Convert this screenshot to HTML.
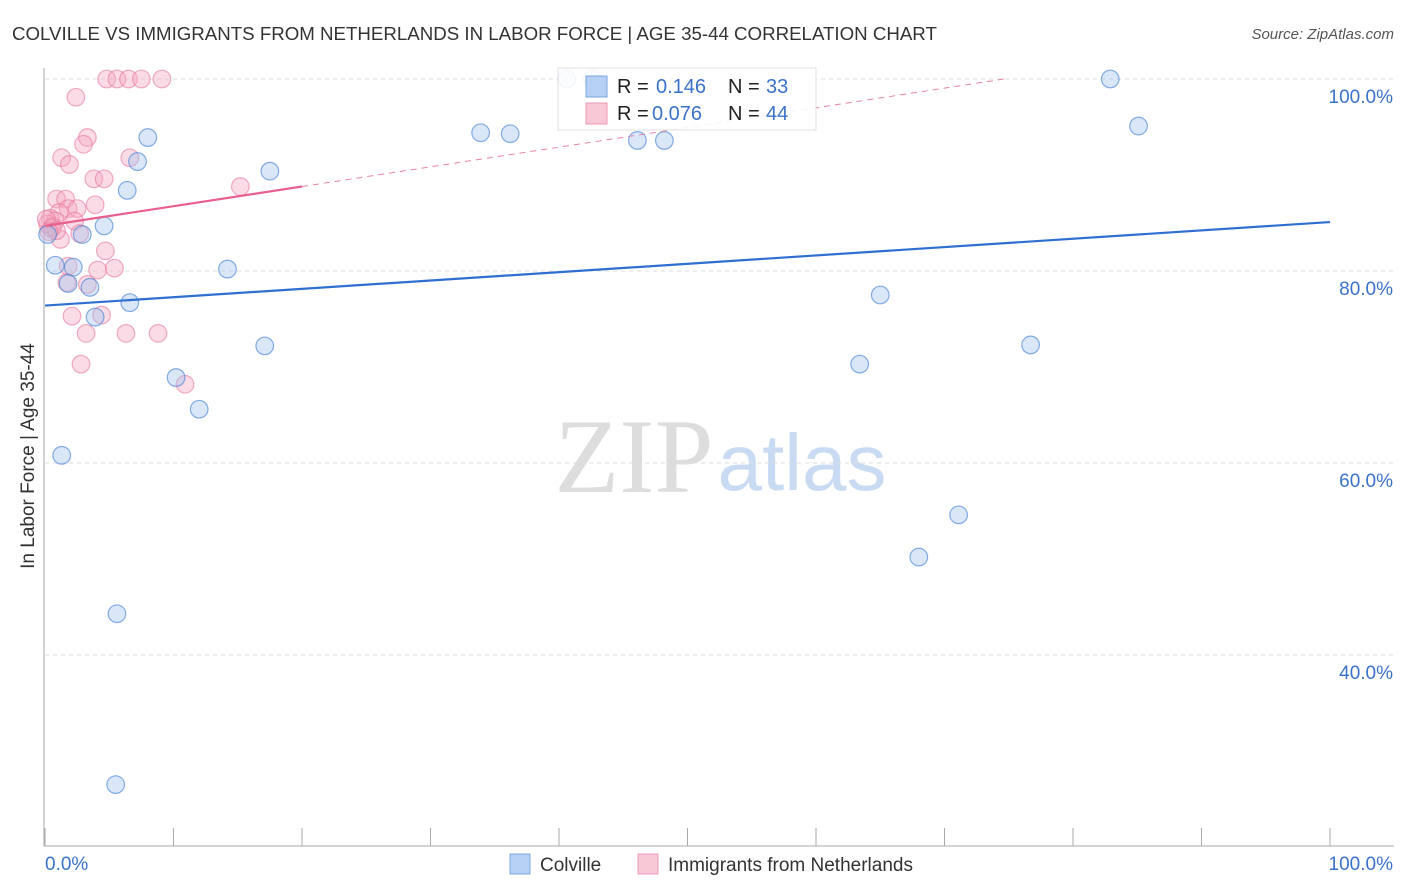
<!DOCTYPE html>
<html><head><meta charset="utf-8"><style>
body{margin:0;background:#fff;font-family:"Liberation Sans",sans-serif}
svg{display:block}
</style></head><body>
<svg id="chart" width="1406" height="892" xmlns="http://www.w3.org/2000/svg">
<text x="12" y="40" font-size="18.7" fill="#333">COLVILLE VS IMMIGRANTS FROM NETHERLANDS IN LABOR FORCE | AGE 35-44 CORRELATION CHART</text>
<text x="1394" y="39" font-size="15" fill="#555" font-style="italic" text-anchor="end">Source: ZipAtlas.com</text>
<g>
<text x="634" y="492" font-size="106" fill="#ddd" font-family="Liberation Serif,serif" text-anchor="middle">ZIP</text>
<text x="802" y="490" font-size="80" fill="#c9dbf2" text-anchor="middle">atlas</text>
</g>
<g id="grid"></g>
<g id="axes"></g>
<g id="marks"></g>
<text transform="translate(34,456) rotate(-90)" font-size="19" fill="#333" text-anchor="middle">In Labor Force | Age 35-44</text>
<g>
<rect x="558" y="68" width="258" height="62" fill="#fff" stroke="#ddd" opacity="0.9"/>
<rect x="586" y="76" width="21" height="21" fill="#b5d0f2" stroke="#7aa6e0"/>
<rect x="586" y="103" width="21" height="21" fill="#f9c8d6" stroke="#ec9ab3"/>
<text x="617" y="93" font-size="20" fill="#222">R = </text><text x="656" y="93" font-size="20" fill="#3a72c9">0.146</text>
<text x="728" y="93" font-size="20" fill="#222">N = </text><text x="766" y="93" font-size="20" fill="#3a72c9">33</text>
<text x="617" y="120" font-size="20" fill="#222">R = </text><text x="652" y="120" font-size="20" fill="#3a72c9">0.076</text>
<text x="728" y="120" font-size="20" fill="#222">N = </text><text x="766" y="120" font-size="20" fill="#3a72c9">44</text>
</g>
<g>
<rect x="510" y="854" width="20" height="20" fill="#b5d0f2" stroke="#7aa6e0"/>
<text x="540" y="871" font-size="19" fill="#333">Colville</text>
<rect x="638" y="854" width="20" height="20" fill="#f9c8d6" stroke="#ec9ab3"/>
<text x="668" y="871" font-size="19" fill="#333">Immigrants from Netherlands</text>
</g>
</svg>
<script>
const yTicks=[100,80,60,40];
const yTickLabels=["100.0%","80.0%","60.0%","40.0%"];
const xTicks=[0,10,20,30,40,50,60,70,80,90,100];
const blueX=[0.2,0.8,1.3,1.8,2.2,3.5,3.9,4.6,2.9,5.6,5.5,6.4,6.6,7.2,8.0,10.2,12.0,14.2,17.1,17.5,33.9,36.2,40.6,42.6,46.1,48.2,63.4,65.0,68.0,71.1,76.7,82.9,85.1];
const blueY=[83.8,80.6,60.8,78.7,80.4,78.3,75.2,84.7,83.8,44.3,26.5,88.4,76.7,91.4,93.9,68.9,65.6,80.2,72.2,90.4,94.4,94.3,100,100,93.6,93.6,70.3,77.5,50.2,54.6,72.3,100,95.1];
const pinkX=[4.8,5.6,6.5,7.5,9.1,2.4,3.3,3.0,1.3,1.9,6.6,3.8,4.6,15.2,0.9,1.6,3.9,1.8,2.5,1.1,0.4,0.8,0.2,0.5,2.3,1.2,2.7,4.7,1.8,4.1,5.4,1.7,3.3,2.1,4.4,3.2,6.3,8.8,2.8,10.9,0.1,0.6,0.9,0.3];
const pinkY=[100,100,100,100,100,98.1,93.9,93.2,91.8,91.1,91.8,89.6,89.6,88.8,87.5,87.5,86.9,86.5,86.5,86.1,85.5,85.2,84.9,84.4,85.2,83.3,83.9,82.1,80.5,80.1,80.3,78.8,78.6,75.3,75.4,73.5,73.5,73.5,70.3,68.2,85.4,84.6,84.2,84.1];
const blueLine=[76.4,85.1];
const pinkLine=[84.7,88.8];
const NS="http://www.w3.org/2000/svg";
const X=v=>45+v*12.85, Y=v=>79+(100-v)*9.6;
function mk(t,a,p){const e=document.createElementNS(NS,t);for(const k in a)e.setAttribute(k,a[k]);p.appendChild(e);return e;}
const grid=document.getElementById('grid'),axes=document.getElementById('axes'),marks=document.getElementById('marks');
yTicks.forEach((t,i)=>{
 const l=mk('line',{x1:45,x2:1394,y1:Y(t),y2:Y(t),stroke:'#ddd','stroke-dasharray':'4,4'},grid);
 
 
 const tx=mk('text',{x:1393,y:Y(t)+24,'font-size':19,fill:'#3a72c9','text-anchor':'end'},axes);
 tx.textContent=yTickLabels[i];
 
 
});
const ax=mk('line',{x1:44,x2:44,y1:68,y2:846,stroke:'#aaa'},axes);


const bx=mk('line',{x1:44,x2:1394,y1:846,y2:846,stroke:'#aaa'},axes);


xTicks.forEach(t=>{
 const l=mk('line',{x1:X(t),x2:X(t),y1:828,y2:846,stroke:'#aaa'},axes);
 
 
});
[[0,"0.0%","start",45],[100,"100.0%","end",1393]].forEach(d=>{
 const tx=mk('text',{x:d[3],y:870,'font-size':19,fill:'#3a72c9','text-anchor':d[2]},axes);
 tx.textContent=d[1];
 
 
});
pinkX.forEach((x,i)=>{
 const c=mk('circle',{cx:X(x),cy:Y(pinkY[i]),r:8.8,fill:'rgba(246,168,192,0.4)',stroke:'rgba(232,120,155,0.6)','stroke-width':1.2},marks);
 
 
});
blueX.forEach((x,i)=>{
 const c=mk('circle',{cx:X(x),cy:Y(blueY[i]),r:8.8,fill:'rgba(160,195,240,0.4)',stroke:'rgba(70,130,215,0.65)','stroke-width':1.2},marks);
 
 
});
const bl=mk('line',{x1:X(0),y1:Y(blueLine[0]),x2:X(100),y2:Y(blueLine[1]),stroke:'#2f6fd0','stroke-width':2.2},marks);


const slope=(pinkLine[1]-pinkLine[0])/20;
const xEnd=(100-pinkLine[0])/slope;
const pd=mk('line',{x1:X(20),y1:Y(pinkLine[1]),x2:X(xEnd),y2:Y(100),stroke:'#e8849f','stroke-width':1,'stroke-dasharray':'6,5'},marks);


const pl=mk('line',{x1:X(0),y1:Y(pinkLine[0]),x2:X(20),y2:Y(pinkLine[1]),stroke:'#e8608c','stroke-width':2.2},marks);


</script>
</body></html>
